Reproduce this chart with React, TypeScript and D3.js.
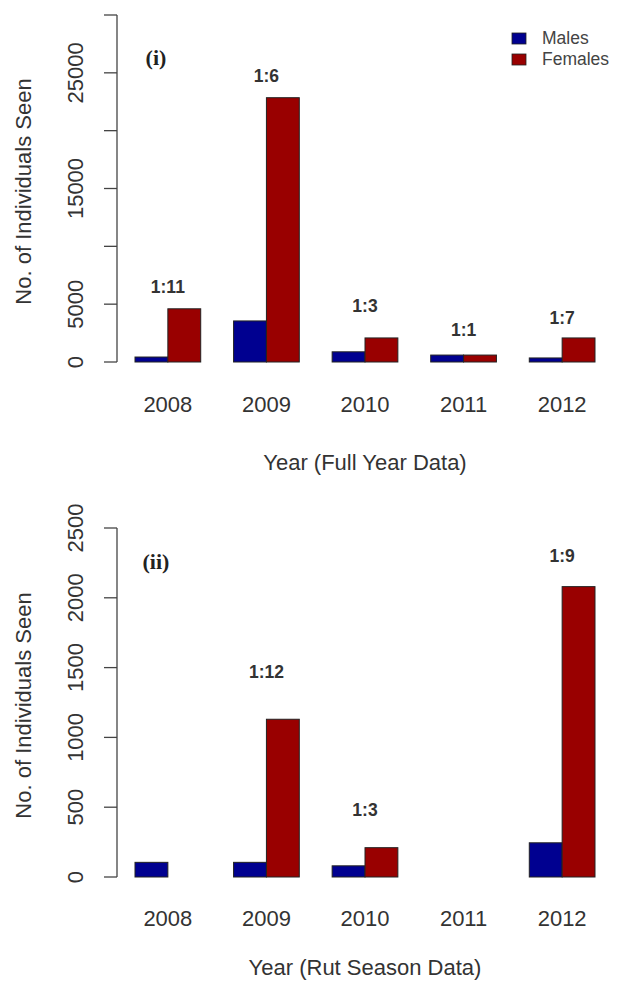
import React from "react";
import * as d3 from "d3";

const years = ["2008", "2009", "2010", "2011", "2012"];
const sexes = ["Males", "Females"];

// Panel (i) full year data
const fullMales = [430, 3550, 880, 600, 350];
const fullFemales = [4600, 22850, 2080, 600, 2080];
const fullRatios = ["1:11", "1:6", "1:3", "1:1", "1:7"];
const fullRatioAt = [6500, 24700, 4800, 2750, 3800];
const fullTicks = [0, 5000, 10000, 15000, 20000, 25000, 30000];
const fullTickLabels = [0, 5000, 15000, 25000];

// Panel (ii) rut season data
const rutMales = [105, 105, 80, 0, 245];
const rutFemales = [0, 1130, 210, 0, 2080];
const rutRatios = ["", "1:12", "1:3", "", "1:9"];
const rutRatioAt = [0, 1470, 480, 0, 2300];
const rutTicks = [0, 500, 1000, 1500, 2000, 2500];
const rutTickLabels = [0, 500, 1000, 1500, 2000, 2500];

const COLORS: Record<string, string> = { Males: "#000090", Females: "#990000" };
const TXT = "#333";
const SANS = "'Liberation Sans', Arial, sans-serif";

type PanelProps = {
  males: number[];
  females: number[];
  ratios: string[];
  ratioAt: number[];
  ticks: number[];
  tickLabels: number[];
  domainMax: number;
  yTop: number;
  yBottom: number;
  tag: string;
  tagY: number;
  xLabelY: number;
  xTitle: string;
  xTitleY: number;
  legend: boolean;
};

function Panel(p: PanelProps) {
  const x = d3.scaleBand<string>().domain(years).range([135, 595]).paddingInner(1 / 3).paddingOuter(0);
  const xs = d3.scaleBand<string>().domain(sexes).range([0, x.bandwidth()]);
  const y = d3.scaleLinear().domain([0, p.domainMax]).range([p.yBottom, p.yTop]);
  const axisX = 117;
  const vals: Record<string, number[]> = { Males: p.males, Females: p.females };
  const yMid = (p.yTop + p.yBottom) / 2;
  return (
    <g>
      {/* y axis */}
      <line x1={axisX} x2={axisX} y1={y(p.ticks[0])} y2={y(p.ticks[p.ticks.length - 1])} stroke="#444" strokeWidth={1.3} />
      {p.ticks.map((t) => (
        <line key={t} x1={axisX - 13} x2={axisX} y1={y(t)} y2={y(t)} stroke="#444" strokeWidth={1.3} />
      ))}
      {p.tickLabels.map((t) => (
        <text key={t} transform={`translate(83,${y(t)}) rotate(-90)`} textAnchor="middle" fontFamily={SANS} fontSize={22} fill={TXT}>
          {t}
        </text>
      ))}
      <text transform={`translate(31,${yMid + 3}) rotate(-90)`} textAnchor="middle" fontFamily={SANS} fontSize={22} fill={TXT}>
        No. of Individuals Seen
      </text>
      {/* bars */}
      {years.map((yr, i) => (
        <g key={yr} transform={`translate(${x(yr)},0)`}>
          {sexes.map((s) =>
            vals[s][i] > 0 ? (
              <rect key={s} x={xs(s)} width={xs.bandwidth()} y={y(vals[s][i])} height={y(0) - y(vals[s][i])} fill={COLORS[s]} stroke="#222" strokeWidth={1} />
            ) : null
          )}
          {p.ratios[i] ? (
            <text x={x.bandwidth() / 2} y={y(p.ratioAt[i]) + 6} textAnchor="middle" fontFamily={SANS} fontWeight="bold" fontSize={17.5} fill={TXT}>
              {p.ratios[i]}
            </text>
          ) : null}
          <text x={x.bandwidth() / 2} y={p.xLabelY} textAnchor="middle" fontFamily={SANS} fontSize={22} fill={TXT}>
            {yr}
          </text>
        </g>
      ))}
      <text x={365} y={p.xTitleY} textAnchor="middle" fontFamily={SANS} fontSize={22} fill={TXT}>
        {p.xTitle}
      </text>
      <text x={156} y={p.tagY} textAnchor="middle" fontFamily="'Liberation Serif', 'Times New Roman', serif" fontWeight="bold" fontSize={22} fill="#222">
        {p.tag}
      </text>
      {p.legend ? (
        <g>
          {sexes.map((s, i) => (
            <g key={s} transform={`translate(512,${33 + i * 21})`}>
              <rect x={0} y={0} width={14} height={11} fill={COLORS[s]} stroke="#222" strokeWidth={0.8} />
              <text x={30} y={11} fontFamily={SANS} fontSize={17.5} fill="#444">
                {s}
              </text>
            </g>
          ))}
        </g>
      ) : null}
    </g>
  );
}

export default function App() {
  return (
    <svg width={617} height={984} style={{ position: "absolute", left: 0, top: 0, background: "#fff" }}>
      <rect width={617} height={984} fill="#fff" />
      <Panel
        males={fullMales}
        females={fullFemales}
        ratios={fullRatios}
        ratioAt={fullRatioAt}
        ticks={fullTicks}
        tickLabels={fullTickLabels}
        domainMax={30000}
        yTop={15}
        yBottom={362}
        tag="(i)"
        tagY={65}
        xLabelY={412}
        xTitle="Year (Full Year Data)"
        xTitleY={470}
        legend={true}
      />
      <Panel
        males={rutMales}
        females={rutFemales}
        ratios={rutRatios}
        ratioAt={rutRatioAt}
        ticks={rutTicks}
        tickLabels={rutTickLabels}
        domainMax={2500}
        yTop={528}
        yBottom={877}
        tag="(ii)"
        tagY={569}
        xLabelY={926}
        xTitle="Year (Rut Season Data)"
        xTitleY={975}
        legend={false}
      />
    </svg>
  );
}
